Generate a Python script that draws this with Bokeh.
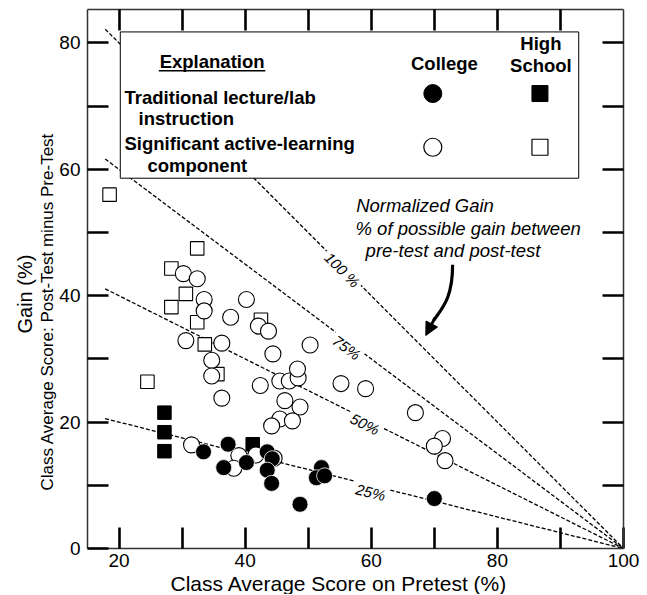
import math
from bokeh.plotting import figure
from bokeh.models import Range1d, FixedTicker, LinearAxis, Label, Arrow, NormalHead, Title
from bokeh.core.properties import value
from bokeh.embed import file_html
from bokeh.resources import INLINE

# ---------------- data ----------------
# College, significant active-learning component (open circles)
college_active_pre = [30.2, 32.4, 33.5, 33.5, 40.2, 37.7, 42.1, 43.7, 30.6, 36.3,
                      50.3, 44.4, 34.7, 34.7, 42.4, 45.5, 47.0, 48.4, 48.3, 36.3,
                      46.3, 48.7, 45.5, 47.5, 44.2, 55.2, 59.1, 67.0, 71.3, 70.0,
                      71.7, 31.5, 39.0, 38.2, 41.7, 44.6]
college_active_gain = [43.5, 42.7, 39.4, 37.6, 39.4, 36.6, 35.2, 34.4, 32.9, 32.5,
                       32.2, 30.8, 29.8, 27.3, 25.8, 26.5, 26.5, 27.0, 28.4, 23.8,
                       23.4, 22.4, 20.5, 20.2, 19.4, 26.1, 25.3, 21.5, 17.4, 16.2,
                       13.9, 16.4, 14.7, 12.7, 14.8, 14.3]

# High school, significant active-learning component (open squares)
hs_active_pre = [18.5, 32.4, 28.3, 30.6, 28.3, 32.4, 33.6, 35.6, 24.5, 42.5]
hs_active_gain = [56.0, 47.5, 44.3, 40.3, 38.2, 35.8, 32.3, 27.6, 26.4, 36.2]

# High school, traditional lecture/lab (filled squares)
hs_trad_pre = [27.2, 27.2, 27.2, 41.2]
hs_trad_gain = [21.5, 18.4, 15.4, 16.5]

# College, traditional lecture/lab (filled circles)
college_trad_pre = [33.4, 37.3, 36.6, 40.2, 43.5, 44.3, 43.5, 44.2, 48.7, 52.1,
                    51.3, 52.6, 70.0]
college_trad_gain = [15.3, 16.5, 12.8, 13.6, 15.3, 14.2, 12.4, 10.3, 7.0, 12.8,
                     11.2, 11.5, 7.9]

# normalized-gain reference lines
gain_levels = [0.25, 0.50, 0.75, 1.00]
gain_labels = ["25%", "50%", "75%", "100 %"]

x_label_ticks = [20, 40, 60, 80, 100]
x_unlabeled_ticks = [30, 50, 70, 90]
y_label_ticks = [0, 20, 40, 60, 80]
y_unlabeled_ticks = [10, 30, 50, 70]

# ---------------- layout / style constants ----------------
FONT = "Liberation Sans"
LINE_START = 17.8
GAIN_LABEL_POS = [(59.9, 8.9), (59.0, 19.7), (56.1, 31.8), (55.4, 44.1)]
LEG_BOX = dict(left=20.2, right=92.9, top=81.75, bottom=58.6)

p = figure(width=646, height=594,
           x_range=Range1d(15, 100), y_range=Range1d(0, 85.3),
           output_backend="svg", toolbar_location=None,
           min_border_left=87, min_border_right=23, min_border_top=9,
           min_border_bottom=44, outline_line_color=None,
           background_fill_color="white", border_fill_color="white")
p.grid.visible = False


def style_axis(ax, major, minor):
    ax.ticker = FixedTicker(ticks=major, minor_ticks=minor)
    for kind in ("major", "minor"):
        setattr(ax, kind + "_tick_in", 21)
        setattr(ax, kind + "_tick_out", 0)
        setattr(ax, kind + "_tick_line_width", 2.6)
        setattr(ax, kind + "_tick_line_color", "black")
    ax.axis_line_width = 1.5
    ax.axis_line_color = "#333333"
    ax.major_label_text_font = FONT
    ax.major_label_text_font_size = "19px"
    ax.major_label_text_color = "black"


style_axis(p.xaxis[0], x_label_ticks, x_unlabeled_ticks)
p.xaxis[0].major_label_standoff = 5
style_axis(p.yaxis[0], y_label_ticks, y_unlabeled_ticks)
p.yaxis[0].major_label_standoff = 7

top_ax = LinearAxis()
style_axis(top_ax, [], x_label_ticks[:-1] + x_unlabeled_ticks)
p.add_layout(top_ax, "above")
right_ax = LinearAxis()
style_axis(right_ax, [], y_label_ticks[1:] + y_unlabeled_ticks)
p.add_layout(right_ax, "right")

# axis titles
p.add_layout(Title(text="Class Average Score on Pretest (%)", align="left", offset=83,
                   standoff=0, text_font=FONT, text_font_size="21px",
                   text_font_style="normal", text_color="black"), "below")
p.add_layout(Title(text="Class Average Score: Post-Test minus Pre-Test", align="left",
                   offset=58, standoff=0, text_font=FONT, text_font_size="17px",
                   text_font_style="normal", text_color="black"), "left")
p.add_layout(Title(text="Gain (%)", align="left", offset=215, standoff=0,
                   text_font=FONT, text_font_size="20px",
                   text_font_style="normal", text_color="black"), "left")

# normalized gain lines
for g in gain_levels:
    p.line([LINE_START, 100], [g * (100 - LINE_START), 0], line_color="black",
           line_width=1.3, line_dash="4 2")

# explanation box
p.quad(fill_color="white", line_color="black", line_width=1, **LEG_BOX)
p.text(x=[34.76], y=[77.0], text=["Explanation"], text_font=value(FONT),
       text_font_style="bold", text_font_size="18.5px", text_align="center",
       text_baseline="middle", text_color="black")
p.segment(x0=[26.3], y0=[75.6], x1=[43.2], y1=[75.6], line_color="black", line_width=1.5)
p.text(x=[20.87, 23.1, 20.87, 24.5], y=[71.4, 68.1, 64.1, 60.6],
       text=["Traditional lecture/lab", "instruction",
             "Significant active-learning", "component"],
       text_font=value(FONT), text_font_style="bold", text_font_size="18.5px",
       text_align="left", text_baseline="middle", text_color="black")
p.text(x=[71.6, 86.9, 86.9], y=[76.7, 79.9, 76.5], text=["College", "High", "School"],
       text_font=value(FONT), text_font_style="bold", text_font_size="18.5px",
       text_align="center", text_baseline="middle", text_color="black")
p.scatter([69.76], [72.0], marker="circle", size=18, fill_color="black", line_color="black")
p.scatter([86.75], [72.0], marker="square", size=16, fill_color="black", line_color="black")
p.scatter([69.76], [63.5], marker="circle", size=18, fill_color="white", line_color="black", line_width=1.2)
p.scatter([86.75], [63.5], marker="square", size=16, fill_color="white", line_color="black", line_width=1.2)

# normalized gain note
p.text(x=[57.6, 57.5, 59.1], y=[54.3, 50.7, 47.2],
       text=["Normalized Gain", "% of possible gain between", "pre-test and post-test"],
       text_font=value(FONT), text_font_style="italic", text_font_size="18.5px",
       text_align="left", text_baseline="middle", text_color="black")
p.bezier(x0=[72.9], y0=[44.9], x1=[69.9], y1=[36.1], cx0=[72.9], cy0=[39.5],
         cx1=[71.2], cy1=[38.0], line_color="black", line_width=3.2)
p.add_layout(Arrow(end=NormalHead(size=13, fill_color="black", line_color="black"),
                   x_start=70.1, y_start=36.5, x_end=68.65, y_end=33.7,
                   line_color="black", line_width=3))

# data points
p.scatter(hs_active_pre, hs_active_gain, marker="square", size=13.5,
          fill_color="white", line_color="black", line_width=1.1)
p.scatter(hs_trad_pre, hs_trad_gain, marker="square", size=13.5,
          fill_color="black", line_color="black")
p.scatter(college_active_pre, college_active_gain, marker="circle", size=16,
          fill_color="white", line_color="black", line_width=1.1)
p.scatter(college_trad_pre, college_trad_gain, marker="circle", size=16,
          fill_color="black", line_color="white", line_width=0.8)

# line labels
for g, lab, (lx, ly) in zip(gain_levels, gain_labels, GAIN_LABEL_POS):
    p.add_layout(Label(x=lx, y=ly, text=lab, angle=-math.atan(g), angle_units="rad",
                       text_font=FONT, text_font_style="italic", text_font_size="15px",
                       text_align="center", text_baseline="middle", text_color="black",
                       background_fill_color="white", padding=3))

open("out.html", "w").write(file_html(p, INLINE))
